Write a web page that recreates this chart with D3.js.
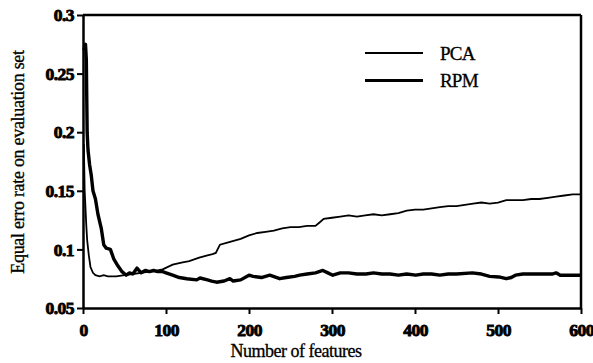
<!DOCTYPE html>
<html>
<head>
<meta charset="utf-8">
<script src="https://cdn.jsdelivr.net/npm/d3@7"></script>
<style>
  body { margin: 0; background: #fff; }
  text { font-family: "Liberation Serif", "Times New Roman", serif; fill: #000; }
  .tick text { font-weight: bold; stroke: #000; stroke-width: 0.9px; paint-order: stroke; }
</style>
</head>
<body>
<div id="chart"></div>
<script>
var svgWidth = 593;
var svgHeight = 363;

var margin = { top: 15, right: 12, bottom: 55, left: 83 };
var width = svgWidth - margin.left - margin.right;
var height = svgHeight - margin.top - margin.bottom;

// Data: number of features vs equal error rate.
var pcaFeatures = [1, 2, 3, 4, 5, 7, 9, 12, 15, 20, 25, 30, 40, 50, 60, 70, 80, 90, 96, 108, 120, 128, 140, 150, 156, 160, 165, 175, 190, 200, 210, 220, 230, 240, 250, 260, 270, 280, 285, 290, 300, 310, 320, 330, 340, 350, 360, 370, 380, 390, 400, 410, 420, 430, 440, 450, 460, 470, 480, 490, 500, 510, 520, 530, 540, 550, 560, 570, 580, 590, 600];
var pcaValues = [0.19, 0.15, 0.135, 0.12, 0.108, 0.095, 0.085, 0.08, 0.078, 0.077, 0.078, 0.077, 0.077, 0.078, 0.079, 0.080, 0.081, 0.082, 0.083, 0.087, 0.089, 0.090, 0.093, 0.095, 0.096, 0.097, 0.104, 0.106, 0.109, 0.112, 0.114, 0.115, 0.116, 0.118, 0.119, 0.119, 0.120, 0.120, 0.123, 0.126, 0.127, 0.128, 0.129, 0.128, 0.129, 0.130, 0.129, 0.130, 0.131, 0.133, 0.134, 0.134, 0.135, 0.136, 0.137, 0.137, 0.138, 0.139, 0.140, 0.139, 0.140, 0.142, 0.142, 0.142, 0.143, 0.143, 0.144, 0.145, 0.146, 0.147, 0.147];

var rpmFeatures = [1, 3, 4, 5, 6, 8, 10, 12, 15, 18, 22, 25, 28, 33, 37, 42, 47, 52, 56, 60, 65, 70, 75, 80, 85, 90, 96, 100, 108, 116, 125, 137, 141, 150, 155, 161, 170, 177, 181, 190, 200, 205, 215, 225, 237, 245, 255, 261, 270, 280, 289, 295, 301, 310, 320, 330, 341, 350, 360, 370, 380, 390, 401, 410, 420, 430, 440, 450, 469, 480, 490, 501, 510, 516, 521, 530, 540, 550, 565, 570, 575, 585, 600];
var rpmValues = [0.27, 0.275, 0.262, 0.2, 0.185, 0.172, 0.163, 0.15, 0.143, 0.13, 0.118, 0.104, 0.101, 0.100, 0.092, 0.086, 0.081, 0.078, 0.080, 0.079, 0.084, 0.080, 0.082, 0.081, 0.082, 0.081, 0.081, 0.080, 0.078, 0.076, 0.075, 0.074, 0.0756, 0.074, 0.073, 0.072, 0.073, 0.075, 0.073, 0.074, 0.078, 0.077, 0.076, 0.078, 0.075, 0.076, 0.077, 0.078, 0.079, 0.080, 0.082, 0.080, 0.078, 0.080, 0.080, 0.079, 0.079, 0.080, 0.079, 0.079, 0.078, 0.079, 0.078, 0.079, 0.079, 0.078, 0.079, 0.079, 0.080, 0.079, 0.077, 0.0765, 0.075, 0.076, 0.078, 0.079, 0.079, 0.079, 0.079, 0.080, 0.078, 0.078, 0.078];

var xTicks = [0, 100, 200, 300, 400, 500, 600];
var yTicks = [0.05, 0.1, 0.15, 0.2, 0.25, 0.3];
var yTickLabels = ["0.05", "0.1", "0.15", "0.2", "0.25", "0.3"];

var seriesNames = ["PCA", "RPM"];
var seriesWidths = [1.8, 3.4];

var svg = d3.select("#chart")
    .append("svg")
    .attr("width", svgWidth)
    .attr("height", svgHeight);

var chartGroup = svg.append("g")
    .attr("transform", `translate(${margin.left}, ${margin.top})`);

var xScale = d3.scaleLinear().domain([0, 600]).range([0, width]);
var yScale = d3.scaleLinear().domain([0.05, 0.3]).range([height, 0]);

// Lines
var line = d3.line()
    .x(d => xScale(d[0]))
    .y(d => yScale(d[1]));

var pcaData = pcaFeatures.map((f, i) => [f, pcaValues[i]]);
var rpmData = rpmFeatures.map((f, i) => [f, rpmValues[i]]);

chartGroup.append("path")
    .datum(pcaData)
    .attr("fill", "none")
    .attr("stroke", "#000")
    .attr("stroke-width", seriesWidths[0])
    .attr("d", line);

chartGroup.append("path")
    .datum(rpmData)
    .attr("fill", "none")
    .attr("stroke", "#000")
    .attr("stroke-width", seriesWidths[1])
    .attr("stroke-linejoin", "round")
    .attr("d", line);

// Axes
var bottomAxis = d3.axisBottom(xScale).tickValues(xTicks).tickSize(6).tickSizeOuter(0).tickPadding(10);
var leftAxis = d3.axisLeft(yScale).tickValues(yTicks).tickSize(6).tickSizeOuter(0).tickPadding(3)
    .tickFormat((d, i) => yTickLabels[i]);

var xAxisG = chartGroup.append("g")
    .attr("transform", `translate(0, ${height})`)
    .call(bottomAxis);

var yAxisG = chartGroup.append("g")
    .call(leftAxis);

[xAxisG, yAxisG].forEach(function(g) {
    g.attr("font-family", "Liberation Serif").attr("font-size", 17.5);
    g.select(".domain").attr("stroke-width", 2.5);
    g.selectAll(".tick line").attr("stroke-width", 2);
    g.selectAll(".tick text").style("letter-spacing", "-0.5px");
});

// Top and right frame
chartGroup.append("line")
    .attr("x1", xScale(0)).attr("x2", xScale(600))
    .attr("y1", yScale(0.3)).attr("y2", yScale(0.3))
    .attr("stroke", "#000").attr("stroke-width", 2.5);
chartGroup.append("line")
    .attr("x1", xScale(600)).attr("x2", xScale(600))
    .attr("y1", yScale(0.3)).attr("y2", yScale(0.05))
    .attr("stroke", "#000").attr("stroke-width", 2.5);

// Legend
var legend = chartGroup.append("g")
    .attr("transform", "translate(282, 38)");

seriesNames.forEach(function(name, i) {
    legend.append("line")
        .attr("x1", 0).attr("x2", 58)
        .attr("y1", i * 27.5).attr("y2", i * 27.5)
        .attr("stroke", "#000")
        .attr("stroke-width", i === 0 ? 2.2 : 3.2);
    legend.append("text")
        .attr("x", 75)
        .attr("y", i * 27.5 + 6.5)
        .style("font-size", "19px")
        .style("letter-spacing", "-0.8px")
        .attr("stroke", "#000")
        .attr("stroke-width", 0.3)
        .text(name);
});

// Axis labels
chartGroup.append("text")
    .attr("transform", "rotate(-90)")
    .attr("x", -(162 - margin.top))
    .attr("y", -59)
    .style("text-anchor", "middle")
    .style("font-size", "18px")
    .style("letter-spacing", "-0.3px")
    .attr("stroke", "#000")
    .attr("stroke-width", 0.3)
    .text("Equal erro rate on evaluation set");

chartGroup.append("text")
    .attr("x", 296 - margin.left)
    .attr("y", 357 - margin.top)
    .style("text-anchor", "middle")
    .style("font-size", "18px")
    .style("letter-spacing", "-0.5px")
    .attr("stroke", "#000")
    .attr("stroke-width", 0.3)
    .text("Number of features");
</script>
</body>
</html>
